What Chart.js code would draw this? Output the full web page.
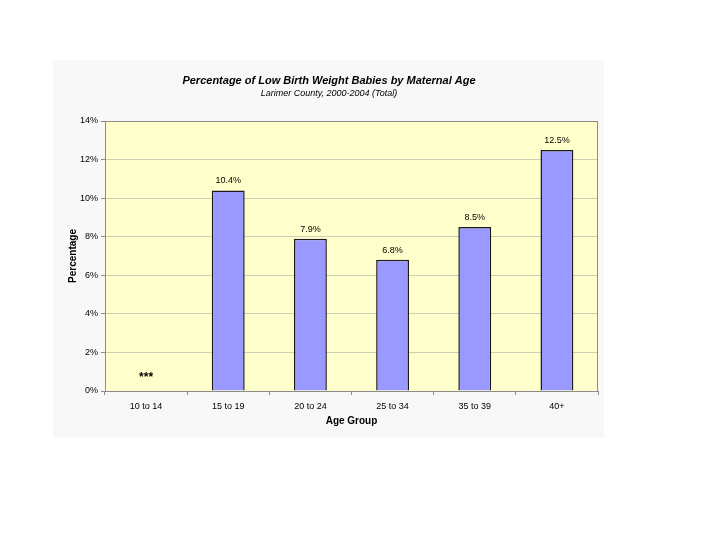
<!DOCTYPE html>
<html>
<head>
<meta charset="utf-8">
<script src="https://cdn.jsdelivr.net/npm/chart.js@4"></script>
<style>
html,body{margin:0;padding:0;background:#ffffff;}
#wrap{width:720px;height:540px;}
</style>
</head>
<body>
<div id="wrap"><canvas id="c" width="720" height="540"></canvas></div>
<script>
const categories = ["10 to 14", "15 to 19", "20 to 24", "25 to 34", "35 to 39", "40+"];
const percentages = [null, 10.4, 7.9, 6.8, 8.5, 12.5];
const valueLabels = ["***", "10.4%", "7.9%", "6.8%", "8.5%", "12.5%"];
const yTicks = [0, 2, 4, 6, 8, 10, 12, 14];
const titleText = "Percentage of Low Birth Weight Babies by Maternal Age";
const subtitleText = "Larimer County, 2000-2004 (Total)";
const xTitle = "Age Group";
const yTitle = "Percentage";

const FONT = "'Liberation Sans', Arial, sans-serif";

const decor = {
  id: 'decor',
  beforeDraw(chart) {
    const ctx = chart.ctx;
    ctx.save();
    ctx.fillStyle = '#ffffff';
    ctx.fillRect(0, 0, chart.width, chart.height);
    ctx.fillStyle = '#f8f8f8';
    ctx.fillRect(53, 60, 551, 378);
    const a = chart.chartArea;
    ctx.fillStyle = '#ffffcc';
    ctx.fillRect(a.left, a.top, a.right - a.left, a.bottom - a.top);
    ctx.restore();
  },
  afterDatasetsDraw(chart) {
    const ctx = chart.ctx;
    const a = chart.chartArea;
    ctx.save();
    ctx.strokeStyle = '#8c8c8c';
    ctx.lineWidth = 1;
    ctx.strokeRect(a.left + 0.5, a.top + 0.5, a.right - a.left - 1, a.bottom - a.top);
    const meta = chart.getDatasetMeta(0);
    const ys = chart.scales.y;
    ctx.fillStyle = '#000000';
    ctx.textAlign = 'center';
    meta.data.forEach((bar, i) => {
      const v = percentages[i];
      if (v === null) {
        ctx.font = 'bold 12px ' + FONT;
        ctx.textBaseline = 'middle';
        ctx.fillText(valueLabels[i], bar.x, ys.getPixelForValue(0) - 13);
      } else {
        ctx.font = '9px ' + FONT;
        ctx.textBaseline = 'bottom';
        ctx.fillText(valueLabels[i], bar.x, bar.y - 5);
      }
    });
    ctx.restore();
  }
};

new Chart(document.getElementById('c'), {
  type: 'bar',
  data: {
    labels: categories,
    datasets: [{
      data: percentages,
      backgroundColor: '#9999ff',
      borderColor: '#1a1a1a',
      borderWidth: 1.5,
      borderSkipped: 'bottom',
      barPercentage: 0.4,
      categoryPercentage: 1.0
    }]
  },
  options: {
    responsive: false,
    animation: false,
    layout: { padding: { left: 60, right: 122, top: 72, bottom: 109 } },
    plugins: {
      legend: { display: false },
      tooltip: { enabled: false },
      title: {
        display: true,
        text: titleText,
        color: '#000000',
        font: { family: FONT, size: 11, weight: 'bold', style: 'italic' },
        padding: { top: 2, bottom: 1 }
      },
      subtitle: {
        display: true,
        text: subtitleText,
        color: '#000000',
        font: { family: FONT, size: 9, style: 'italic' },
        padding: { top: 0, bottom: 22 }
      }
    },
    scales: {
      x: {
        afterFit(scale) { scale.height = 40; },
        grid: { drawOnChartArea: false, offset: true, tickLength: 4, color: '#8c8c8c' },
        border: { color: '#8c8c8c' },
        ticks: { color: '#000000', font: { family: FONT, size: 9 }, padding: 6, maxRotation: 0 },
        title: {
          display: true, text: xTitle, color: '#000000',
          font: { family: FONT, size: 10, weight: 'bold' },
          padding: { top: 2, bottom: 4 }
        }
      },
      y: {
        min: 0, max: 14,
        afterFit(scale) { scale.width = 45; },
        afterBuildTicks(scale) { scale.ticks = yTicks.map(v => ({ value: v })); },
        grid: { color: '#cfcfb8', tickLength: 4, tickColor: '#8c8c8c' },
        border: { color: '#8c8c8c' },
        ticks: {
          color: '#000000', font: { family: FONT, size: 9 }, padding: 3,
          callback: v => v + '%'
        },
        title: {
          display: true, text: yTitle, color: '#000000',
          font: { family: FONT, size: 10, weight: 'bold' },
          padding: { top: 7, bottom: 0 }
        }
      }
    }
  },
  plugins: [decor]
});
</script>
</body>
</html>
